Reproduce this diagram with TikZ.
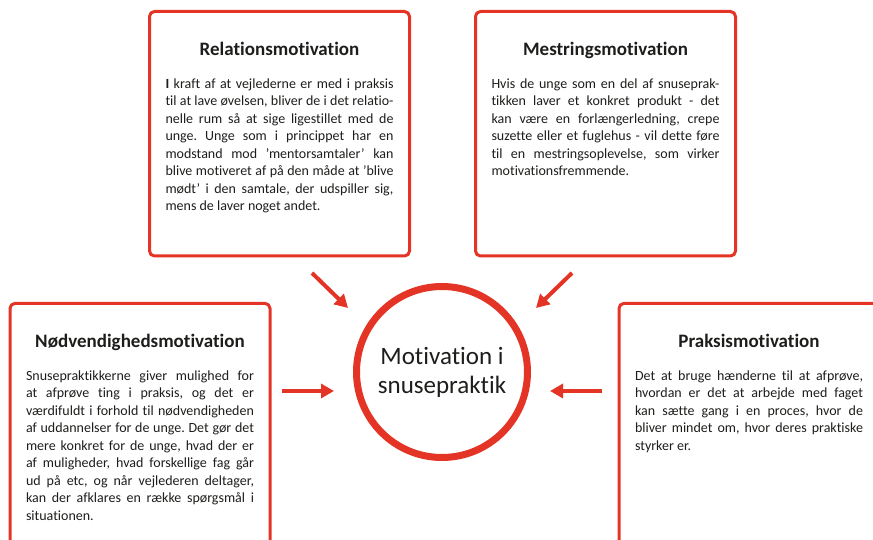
\documentclass[tikz,border=0pt]{standalone}
\usepackage{fontspec}
\setmainfont{Carlito}[Ligatures=NoCommon]
\usetikzlibrary{arrows.meta,positioning}
\definecolor{motred}{RGB}{228,52,38}
\definecolor{ink}{RGB}{29,29,27}
\hyphenpenalty=10000
\frenchspacing

\begin{document}
\begin{tikzpicture}[x=1pt,y=1pt,line join=round,>={Triangle[length=13pt,width=14pt]},
    motbox/.style={draw=motred,line width=3pt,rounded corners=5pt,minimum width=260pt,minimum height=244.5pt},
    openbox/.style={motbox,minimum height=260pt},
    boxtitle/.style={anchor=base,inner sep=0pt,text=ink,font=\fontsize{19}{22}\selectfont\bfseries},
    boxtext/.style={inner sep=0pt,text width=228pt,align=justify,text=ink,
      font=\fontsize{14}{17.5}\selectfont},
    arr/.style={->,draw=motred,line width=4pt}]
    \useasboundingbox (0,0) rectangle (873,540);
    \clip (0,0) rectangle (873,540);
    % the four boxes
    \node[motbox] (relbox) at (279.5,406.25) {};
    \node[motbox] (mestbox) at (605.5,406.25) {};
    \node[openbox] (noedbox) at (140,106.6) {};
    \node[openbox] (praksbox) at (749,106.6) {};
    \node[boxtitle] (reltitle) at ([yshift=-46pt]relbox.north) {Relationsmotivation};
    \node[boxtitle] (mesttitle) at ([yshift=-46pt]mestbox.north) {Mestringsmotivation};
    \node[boxtitle] (noedtitle) at ([yshift=-46pt]noedbox.north) {Nødvendighedsmotivation};
    \node[boxtitle] (prakstitle) at ([yshift=-46pt]praksbox.north) {Praksismotivation};
    \node[boxtext,below=19.75pt of reltitle.base] (reltext) {\strut\textbf{I} kraft af at vejlederne er med i praksis\linebreak
      til at lave øvelsen, bliver de i det relatio-\linebreak
      nelle rum så at sige ligestillet med de\linebreak
      unge. Unge som i princippet har en\linebreak
      modstand mod ’mentorsamtaler’ kan\linebreak
      blive motiveret af på den måde at ’blive\linebreak
      mødt’ i den samtale, der udspiller sig,\linebreak
      mens de laver noget andet.};
    \node[boxtext,below=19.75pt of mesttitle.base] (mesttext) {\strut Hvis de unge som en del af snuseprak-\linebreak
      tikken laver et konkret produkt - det\linebreak
      kan være en forlængerledning, crepe\linebreak
      suzette eller et fuglehus - vil dette føre\linebreak
      til en mestringsoplevelse, som virker\linebreak
      motivationsfremmende.};
    \node[boxtext,below=19.75pt of noedtitle.base] (noedtext) {\strut Snusepraktikkerne giver mulighed for\linebreak
      at afprøve ting i praksis, og det er\linebreak
      værdifuldt i forhold til nødvendigheden\linebreak
      af uddannelser for de unge. Det gør det\linebreak
      mere konkret for de unge, hvad der er\linebreak
      af muligheder, hvad forskellige fag går\linebreak
      ud på etc, og når vejlederen deltager,\linebreak
      kan der afklares en række spørgsmål i\linebreak
      situationen.};
    \node[boxtext,below=19.75pt of prakstitle.base] (prakstext) {\strut Det at bruge hænderne til at afprøve,\linebreak
      hvordan er det at arbejde med faget\linebreak
      kan sætte gang i en proces, hvor de\linebreak
      bliver mindet om, hvor deres praktiske\linebreak
      styrker er.};
    % centre
    \node[circle,draw=motred,line width=7pt,minimum size=171pt,align=center,text=ink,
      font=\fontsize{25}{29}\selectfont] (motiv) at (442,168) {Motivation i\\snusepraktik};
    \coordinate (relfrom) at (312,267);
    \coordinate (relto) at (348,232);
    \coordinate (mestfrom) at (572,267);
    \coordinate (mestto) at (536,232);
    \coordinate (noedfrom) at (282,149);
    \coordinate (noedto) at (334,149);
    \coordinate (praksfrom) at (602,149);
    \coordinate (praksto) at (550,149);
    \draw[arr] (relfrom) -- (relto);
    \draw[arr] (mestfrom) -- (mestto);
    \draw[arr] (noedfrom) -- (noedto);
    \draw[arr] (praksfrom) -- (praksto);
\end{tikzpicture}
\end{document}
